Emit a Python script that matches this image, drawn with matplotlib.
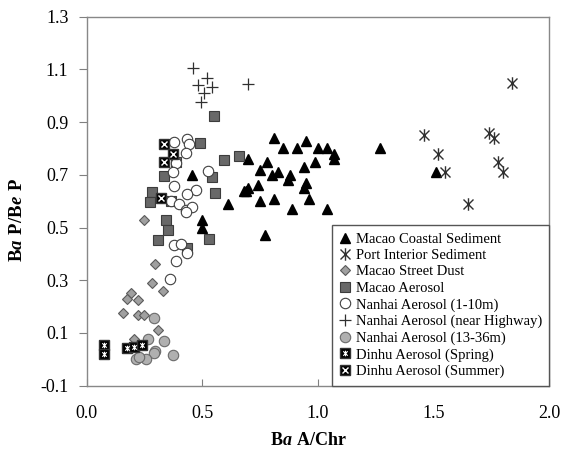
import numpy as np
import matplotlib.pyplot as plt
from matplotlib.path import Path

plt.rcParams["font.family"] = ["Liberation Serif", "DejaVu Serif"]
plt.rcParams["mathtext.fontset"] = "custom"
plt.rcParams["mathtext.rm"] = "Liberation Serif"
plt.rcParams["mathtext.bf"] = "Liberation Serif:bold"
plt.rcParams["mathtext.bfit"] = "Liberation Serif:bold:italic"

# Macao Coastal Sediment
coastal_x = [0.455, 0.50, 0.50, 0.61, 0.70, 0.68, 0.69, 0.70, 0.74, 0.75, 0.75, 0.78, 0.77, 0.80, 0.81, 0.81,
             0.83, 0.85, 0.87, 0.88, 0.89, 0.91, 0.94, 0.95, 0.95, 0.94, 0.96, 0.99, 1.00, 1.04, 1.04, 1.07,
             1.07, 1.27, 1.51]
coastal_y = [0.70, 0.53, 0.50, 0.59, 0.76, 0.64, 0.64, 0.65, 0.66, 0.72, 0.60, 0.75, 0.47, 0.70, 0.61, 0.84,
             0.71, 0.80, 0.68, 0.70, 0.57, 0.80, 0.73, 0.83, 0.67, 0.65, 0.61, 0.75, 0.80, 0.80, 0.57, 0.78,
             0.76, 0.80, 0.71]

# Port Interior Sediment
port_x = [1.46, 1.52, 1.55, 1.65, 1.74, 1.76, 1.78, 1.80, 1.84]
port_y = [0.85, 0.78, 0.71, 0.59, 0.86, 0.84, 0.75, 0.71, 1.05]

# Macao Street Dust
dust_x = [0.25, 0.295, 0.284, 0.331, 0.192, 0.173, 0.221, 0.158, 0.221, 0.249, 0.307, 0.206, 0.23]
dust_y = [0.53, 0.36, 0.29, 0.26, 0.25, 0.23, 0.225, 0.177, 0.167, 0.167, 0.113, 0.078, 0.055]

# Macao Aerosol
maerosol_x = [0.549, 0.490, 0.658, 0.595, 0.544, 0.557, 0.335, 0.281, 0.276, 0.365, 0.342, 0.353, 0.307,
              0.528, 0.436, 0.385]
maerosol_y = [0.923, 0.819, 0.771, 0.758, 0.692, 0.630, 0.695, 0.634, 0.597, 0.600, 0.529, 0.492, 0.452,
              0.458, 0.423, 0.747]

# Nanhai Aerosol (1-10m)
nanhai1_x = [0.377, 0.435, 0.443, 0.429, 0.388, 0.374, 0.525, 0.377, 0.475, 0.435, 0.366, 0.401, 0.429,
             0.455, 0.432, 0.377, 0.408, 0.435, 0.385, 0.362]
nanhai1_y = [0.824, 0.835, 0.817, 0.781, 0.743, 0.712, 0.716, 0.657, 0.643, 0.629, 0.600, 0.590, 0.568,
             0.578, 0.559, 0.435, 0.438, 0.404, 0.372, 0.305]

# Nanhai Aerosol (near Highway)
highway_x = [0.461, 0.522, 0.483, 0.541, 0.509, 0.497, 0.699]
highway_y = [1.106, 1.066, 1.041, 1.034, 1.009, 0.976, 1.045]

# Nanhai Aerosol (13-36m)
nanhai2_x = [0.293, 0.264, 0.336, 0.295, 0.290, 0.212, 0.256, 0.372, 0.226]
nanhai2_y = [0.157, 0.078, 0.070, 0.031, 0.024, 0.001, 0.000, 0.016, 0.010]

# Dinhu Aerosol (Spring)
spring_x = [0.076, 0.076, 0.177, 0.206, 0.240]
spring_y = [0.053, 0.020, 0.041, 0.045, 0.053]

# Dinhu Aerosol (Summer)
summer_x = [0.334, 0.375, 0.334, 0.324]
summer_y = [0.818, 0.780, 0.749, 0.613]

star = Path([(0, -1), (0, 1), (-0.8, -0.8), (0.8, 0.8), (-0.8, 0.8), (0.8, -0.8)],
            [Path.MOVETO, Path.LINETO, Path.MOVETO, Path.LINETO, Path.MOVETO, Path.LINETO])

fig = plt.figure(figsize=(5.62, 4.5), dpi=100)
ax = fig.add_axes([0.154, 0.143, 0.823, 0.820])

h1, = ax.plot(coastal_x, coastal_y, "^", ms=7.5, color="black", ls="none")
h2, = ax.plot(port_x, port_y, marker=star, ms=9, color="#303030", mew=1.0, ls="none")
h3, = ax.plot(dust_x, dust_y, "D", ms=5.5, mfc="#a0a0a0", mec="#5a5a5a", mew=0.8, ls="none")
h4, = ax.plot(maerosol_x, maerosol_y, "s", ms=7.5, mfc="#686868", mec="#3c3c3c", mew=0.8, ls="none")
h5, = ax.plot(nanhai1_x, nanhai1_y, "o", ms=7.5, mfc="white", mec="#404040", mew=0.8, ls="none")
h6, = ax.plot(highway_x, highway_y, "+", ms=9, color="#303030", mew=0.9, ls="none")
h7, = ax.plot(nanhai2_x, nanhai2_y, "o", ms=7.5, mfc="#b0b0b0", mec="#6a6a6a", mew=0.8, ls="none")
h8a, = ax.plot(spring_x, spring_y, "s", ms=7, mfc="black", mec="#333333", ls="none")
h8b, = ax.plot(spring_x, spring_y, marker=star, ms=4, color="white", mew=0.8, ls="none")
h9a, = ax.plot(summer_x, summer_y, "s", ms=7, mfc="black", mec="#333333", ls="none")
h9b, = ax.plot(summer_x, summer_y, "x", ms=5, color="white", mew=1.0, ls="none")

ax.set_xlim(0, 2.0)
ax.set_ylim(-0.1, 1.3)
ax.set_xticks([0.0, 0.5, 1.0, 1.5, 2.0])
ax.set_yticks([-0.1, 0.1, 0.3, 0.5, 0.7, 0.9, 1.1, 1.3])
ax.xaxis.set_major_formatter(plt.FormatStrFormatter("%.1f"))
ax.yaxis.set_major_formatter(plt.FormatStrFormatter("%.1f"))
ax.tick_params(axis="x", direction="in", length=5, pad=14, labelsize=13, color="#808080")
ax.tick_params(axis="y", direction="out", length=6, pad=7, labelsize=13, color="#808080")
for s in ax.spines.values():
    s.set_color("#888888")
    s.set_linewidth(1.0)

ax.set_xlabel(r"$\mathbf{B}\mathbfit{a}\mathbf{\ A/Chr}$", fontsize=13)
ax.xaxis.set_label_coords(0.48, -0.125)
ax.set_ylabel(r"$\mathbf{B}\mathbfit{a}\mathbf{\ P/B}\mathbfit{e}\mathbf{\ P}$", fontsize=13.5)
ax.yaxis.set_label_coords(-0.13, 0.45)

leg = ax.legend([h1, h2, h3, h4, h5, h6, h7, (h8a, h8b), (h9a, h9b)],
                ["Macao Coastal Sediment", "Port Interior Sediment", "Macao Street Dust", "Macao Aerosol",
                 "Nanhai Aerosol (1-10m)", "Nanhai Aerosol (near Highway)", "Nanhai Aerosol (13-36m)",
                 "Dinhu Aerosol (Spring)", "Dinhu Aerosol (Summer)"],
                loc="lower right", bbox_to_anchor=(1.0, 0.0), borderaxespad=0, fontsize=10.5,
                fancybox=False, framealpha=1, edgecolor="#555555", handlelength=0.8,
                handletextpad=0.3, labelspacing=0.22, borderpad=0.5)
leg.get_frame().set_linewidth(1.0)

plt.savefig("out.png", dpi=100)
